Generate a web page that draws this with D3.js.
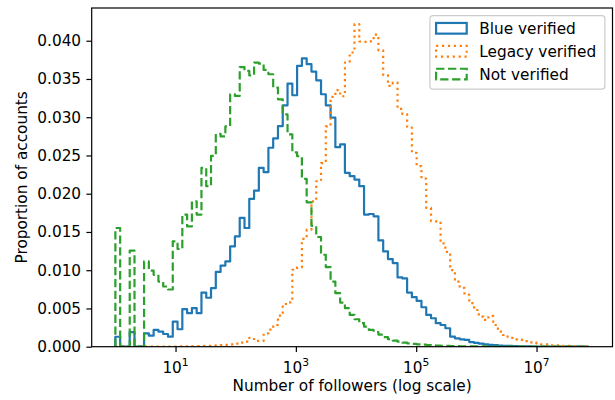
<!DOCTYPE html>
<html>
<head>
<meta charset="utf-8">
<script src="https://cdn.jsdelivr.net/npm/d3@7"></script>
<style>
body { margin: 0; background: #fff; }
text { font-family: "DejaVu Sans", sans-serif; fill: #000; }
</style>
</head>
<body>
<div class="chart-container"></div>
<script>
// histogram: 99 log-spaced bins from 1 to ~7.4e7 followers
var nBins = 99,
    maxFollowers = 7.4e7;

var seriesNames = ["Blue verified", "Legacy verified", "Not verified"];

// proportion of accounts per bin
var blueVerified = [
    0.0013, 0, 0, 0.0019, 0, 0, 0.00175, 0.00144, 0.00219, 0.00197,
    0.00166, 0.00131, 0.00328, 0.00228, 0.0049, 0.00438, 0.00503, 0.00438, 0.00708, 0.0064,
    0.00765, 0.00978, 0.0106, 0.01115, 0.01311, 0.01442, 0.01683, 0.01552, 0.01932, 0.0204,
    0.02339, 0.02281, 0.02601, 0.02723, 0.02884, 0.03156, 0.0344, 0.03287, 0.03671, 0.03768,
    0.03693, 0.03597, 0.03483, 0.033, 0.03156, 0.02994, 0.02609, 0.02644, 0.02273, 0.02229,
    0.02185, 0.02098, 0.01727, 0.01735, 0.01704, 0.0139, 0.01246, 0.01145, 0.01093, 0.00905,
    0.00892, 0.00708, 0.00647, 0.00599, 0.00516, 0.00416, 0.00372, 0.00307, 0.00284, 0.00241,
    0.00131, 0.0011, 0.00097, 0.00088, 0.0006, 0.0005, 0.0004, 0.0003, 0.00025, 0.0002,
    0.00015, 0.00012, 0.0001, 0.00008, 0.00006, 0.00005, 0.00003, 0.00002, 0.00001, 0.00001,
    0.00001, 0, 0, 0, 0, 0, 0, 0, 0
];

var legacyVerified = [
    0, 0, 0, 0, 0, 0, 0, 0, 0, 0,
    0, 0.00002, 0.00002, 0.00003, 0.00004, 0.00005, 0.00006, 0.00008, 0.0001, 0.00012,
    0.00015, 0.00018, 0.0002, 0.00025, 0.0003, 0.0004, 0.00053, 0.00066, 0.00115, 0.00075,
    0.00075, 0.00175, 0.00222, 0.00284, 0.00405, 0.00558, 0.0058, 0.01006, 0.01038, 0.0141,
    0.0153, 0.01901, 0.02163, 0.024, 0.0288, 0.03267, 0.03354, 0.03274, 0.03715, 0.03846,
    0.04217, 0.0399, 0.03985, 0.03992, 0.0408, 0.03873, 0.03551, 0.03409, 0.03453, 0.03108,
    0.03042, 0.02863, 0.02535, 0.0236, 0.02197, 0.01814, 0.01639, 0.01639, 0.0135, 0.0124,
    0.01, 0.0085, 0.0077, 0.0068, 0.0057, 0.0048, 0.00394, 0.0035, 0.00402, 0.00284,
    0.00197, 0.00153, 0.00131, 0.00097, 0.00088, 0.00088, 0.00057, 0.00057, 0.00044, 0.00031,
    0.00031, 0.00018, 0.00018, 0.0001, 0.0001, 0.00005, 0.00005, 0.00005, 0.00005
];

var notVerified = [
    0.01552, 0, 0, 0.01255, 0, 0, 0.01115, 0.00995, 0.0094, 0.00852,
    0.00787, 0.00748, 0.01377, 0.01277, 0.01727, 0.01573, 0.019, 0.01727, 0.02339, 0.02098,
    0.02495, 0.02782, 0.02749, 0.0288, 0.033, 0.03278, 0.03655, 0.03605, 0.03547, 0.03715,
    0.037, 0.03618, 0.03562, 0.03388, 0.03234, 0.03037, 0.02775, 0.0254, 0.0249, 0.02195,
    0.01888, 0.0158, 0.01434, 0.01202, 0.01041, 0.00852, 0.007, 0.00577, 0.00503, 0.00416,
    0.00359, 0.00307, 0.00262, 0.00219, 0.00192, 0.00158, 0.00125, 0.00098, 0.0008, 0.00066,
    0.00053, 0.00044, 0.00038, 0.0003, 0.00026, 0.00022, 0.00018, 0.00015, 0.00012, 0.0001,
    0.00008, 0.00007, 0.00006, 0.00005, 0.00004, 0.00004, 0.00003, 0.00003, 0.00002, 0.00002,
    0.00002, 0.00001, 0.00001, 0.00001, 0.00001, 0, 0, 0, 0, 0,
    0, 0, 0, 0, 0, 0, 0, 0, 0
];

var yTicks = [0, 0.005, 0.01, 0.015, 0.02, 0.025, 0.03, 0.035, 0.04];
var xTickExponents = [1, 3, 5, 7];

var width = 615,
    height = 400,
    margin = { top: 8, right: 2.5, bottom: 53.3, left: 91.7 },
    innerW = width - margin.left - margin.right,
    innerH = height - margin.top - margin.bottom;

var fontSize = 15.3,
    tickLen = 5.3,
    tickPad = 5.3,
    lineW = 2.2;

var colors = ["#1f77b4", "#ff7f0e", "#2ca02c"],
    dashes = [null, "2.2,3.7", "8.3,3.6"];

// bin edges, as numpy.logspace(0, log10(max), nBins + 1)
var logMax = Math.log10(maxFollowers);
var edges = d3.range(nBins + 1).map(function(i) { return Math.pow(10, i * logMax / nBins); });

var span = logMax;
var x = d3.scaleLog()
    .domain([Math.pow(10, -0.05 * span), Math.pow(10, logMax + 0.05 * span)])
    .range([0, innerW]);

var allSeries = [blueVerified, legacyVerified, notVerified];
var yMax = d3.max(allSeries, function(s) { return d3.max(s); }) * 1.05;

var y = d3.scaleLinear()
    .domain([0, yMax])
    .range([innerH, 0]);

var svg = d3.select(".chart-container").append("svg")
    .attr("width", width)
    .attr("height", height);

svg.append("rect").attr("width", width).attr("height", height).attr("fill", "#fff");

svg.append("defs").append("clipPath")
    .attr("id", "plot-clip")
    .append("rect")
    .attr("width", innerW)
    .attr("height", innerH);

var g = svg.append("g")
    .attr("transform", "translate(" + margin.left + "," + margin.top + ")");

var step = d3.line()
    .x(function(d) { return x(d[0]); })
    .y(function(d) { return y(d[1]); })
    .curve(d3.curveStepAfter);

function stepPoints(values) {
    var pts = [[edges[0], 0]];
    values.forEach(function(v, i) { pts.push([edges[i], v]); });
    pts.push([edges[nBins], 0]);
    return pts;
}

g.append("g")
    .attr("clip-path", "url(#plot-clip)")
    .selectAll(".hist")
    .data(allSeries)
    .enter().append("path")
    .attr("class", "hist")
    .attr("d", function(d) { return step(stepPoints(d)); })
    .attr("fill", "none")
    .attr("stroke", function(d, i) { return colors[i]; })
    .attr("stroke-width", lineW)
    .attr("stroke-dasharray", function(d, i) { return dashes[i]; })
    .attr("stroke-linejoin", "round");

// y axis
var yAxis = g.append("g")
    .call(d3.axisLeft(y).tickValues(yTicks).tickFormat(d3.format(".3f")).tickSize(tickLen).tickPadding(tickPad));

// x axis
var xAxis = g.append("g")
    .attr("transform", "translate(0," + innerH + ")")
    .call(d3.axisBottom(x).tickValues(xTickExponents.map(function(e) { return Math.pow(10, e); }))
        .tickFormat("").tickSize(tickLen));

[yAxis, xAxis].forEach(function(ax) {
    ax.select(".domain").remove();
    ax.selectAll(".tick line").attr("stroke", "#000").attr("stroke-width", 1.2);
    ax.selectAll("text").attr("font-size", fontSize).attr("font-family", "DejaVu Sans").attr("fill", "#000");
});

var xLabels = g.append("g").selectAll(".xlab")
    .data(xTickExponents)
    .enter().append("text")
    .attr("class", "xlab")
    .attr("x", function(d) { return x(Math.pow(10, d)); })
    .attr("y", innerH + 26)
    .attr("text-anchor", "middle")
    .attr("font-size", fontSize);

xLabels.append("tspan").text("10");
xLabels.append("tspan")
    .attr("dy", -6.5)
    .attr("font-size", fontSize * 0.7)
    .text(function(d) { return d; });

// frame
g.append("rect")
    .attr("width", innerW)
    .attr("height", innerH)
    .attr("fill", "none")
    .attr("stroke", "#000")
    .attr("stroke-width", 1.2);

// axis titles
svg.append("text")
    .attr("x", margin.left + innerW / 2)
    .attr("y", 391)
    .attr("text-anchor", "middle")
    .attr("font-size", fontSize)
    .text("Number of followers (log scale)");

svg.append("text")
    .attr("transform", "translate(27," + (margin.top + innerH / 2) + ") rotate(-90)")
    .attr("text-anchor", "middle")
    .attr("font-size", fontSize)
    .text("Proportion of accounts");

// legend
var legW = 175, legH = 73.5, legPad = 7.6;
var legend = g.append("g")
    .attr("transform", "translate(" + (innerW - legPad - legW) + "," + legPad + ")");

legend.append("rect")
    .attr("width", legW)
    .attr("height", legH)
    .attr("rx", 3)
    .attr("fill", "#fff")
    .attr("fill-opacity", 0.8)
    .attr("stroke", "#ccc")
    .attr("stroke-width", 1.2);

var rows = legend.selectAll(".leg-row")
    .data(seriesNames)
    .enter().append("g")
    .attr("class", "leg-row")
    .attr("transform", function(d, i) { return "translate(0," + (12.7 + i * 22.9) + ")"; });

rows.append("rect")
    .attr("x", 6.2)
    .attr("y", -5.35)
    .attr("width", 30.6)
    .attr("height", 10.7)
    .attr("fill", "none")
    .attr("stroke", function(d, i) { return colors[i]; })
    .attr("stroke-width", lineW)
    .attr("stroke-dasharray", function(d, i) { return dashes[i]; });

rows.append("text")
    .attr("x", 49.4)
    .attr("dy", "0.36em")
    .attr("font-size", fontSize)
    .text(function(d) { return d; });
</script>
</body>
</html>
